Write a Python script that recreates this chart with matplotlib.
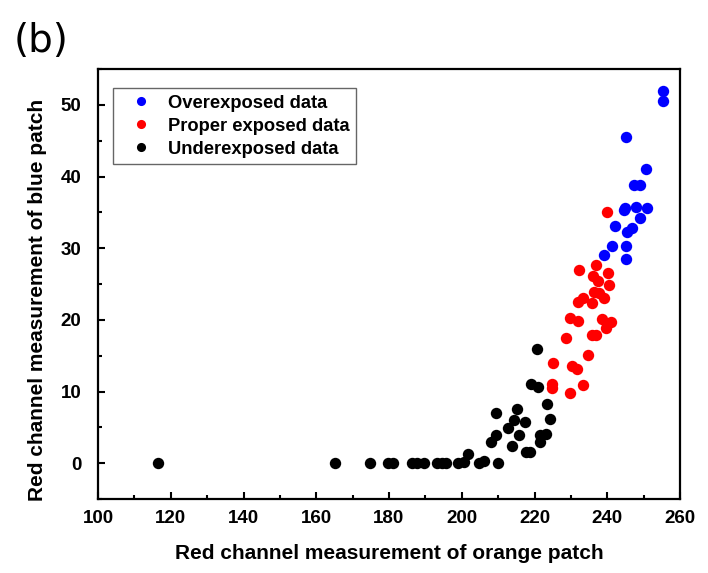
import matplotlib
matplotlib.use("Agg")
import matplotlib.pyplot as plt
from matplotlib.ticker import MultipleLocator

plt.rcParams['font.family'] = ['Liberation Sans', 'DejaVu Sans']

# Overexposed data (blue)
over_x = [255.3, 255.3, 245.1, 250.7, 247.3, 249.1, 244.5, 245.0, 247.8, 251.0,
          249.0, 242.2, 245.5, 246.8, 241.2, 245.2, 239.2, 245.2]
over_y = [52.0, 50.6, 45.5, 41.1, 38.8, 38.8, 35.3, 35.6, 35.7, 35.6,
          34.2, 33.1, 32.3, 32.8, 30.3, 30.3, 29.1, 28.5]

# Proper exposed data (red)
proper_x = [239.9, 236.9, 232.2, 240.3, 236.0, 237.4, 240.6, 236.3, 237.8, 239.0,
            233.2, 232.0, 235.7, 229.7, 232.0, 238.5, 241.0, 239.7, 235.8, 236.8,
            228.7, 234.6, 225.1, 230.3, 231.6, 233.3, 224.8, 224.8, 229.7]
proper_y = [35.0, 27.7, 26.9, 26.5, 26.1, 25.4, 24.8, 23.9, 23.8, 23.0,
            23.0, 22.5, 22.3, 20.3, 19.9, 20.1, 19.7, 18.9, 17.9, 17.9,
            17.5, 15.1, 14.0, 13.6, 13.1, 10.9, 11.0, 10.5, 9.8]

# Underexposed data (black)
under_x = [116.4, 165.1, 174.7, 179.8, 181.2, 186.2, 187.6, 189.6, 193.3, 194.7,
           195.8, 199.0, 200.5, 201.7, 204.8, 206.1, 210.0, 208.0, 209.4, 209.4,
           212.8, 214.4, 215.2, 215.8, 217.4, 213.7, 217.6, 218.8, 221.6, 223.1,
           221.6, 223.4, 224.3, 220.8, 219.0, 221.0]
under_y = [0.0, 0.0, 0.0, 0.0, 0.0, 0.0, 0.0, 0.0, 0.0, 0.0,
           0.0, 0.0, 0.2, 1.3, 0.0, 0.3, 0.0, 3.0, 4.0, 7.0,
           4.9, 6.0, 7.6, 4.0, 5.7, 2.4, 1.6, 1.6, 4.0, 4.1,
           2.9, 8.2, 6.2, 16.0, 11.0, 10.6]

labels = ["Overexposed data", "Proper exposed data", "Underexposed data"]

fig = plt.figure(figsize=(7.08, 5.73), dpi=100)
ax = fig.add_axes([98/708, 1-499/573, (680-98)/708, (499-69)/573])

ms = 8.2
ax.plot(over_x, over_y, 'o', color='#0000ff', ms=ms, mec='none', label=labels[0])
ax.plot(proper_x, proper_y, 'o', color='#ff0000', ms=ms, mec='none', label=labels[1])
ax.plot(under_x, under_y, 'o', color='#000000', ms=ms, mec='none', label=labels[2])

ax.set_xlim(100, 260)
ax.set_ylim(-5, 55)
ax.xaxis.set_major_locator(MultipleLocator(20))
ax.xaxis.set_minor_locator(MultipleLocator(10))
ax.yaxis.set_major_locator(MultipleLocator(10))
ax.yaxis.set_minor_locator(MultipleLocator(5))
ax.tick_params(which='both', direction='in', top=False, right=False, width=1.5)
ax.tick_params(which='major', length=5, labelsize=13.5)
ax.tick_params(axis='x', which='major', pad=8)
ax.tick_params(axis='y', which='major', pad=12)
ax.tick_params(which='minor', length=3)
for lab in ax.get_xticklabels() + ax.get_yticklabels():
    lab.set_fontweight('bold')
for s in ax.spines.values():
    s.set_linewidth(1.6)

ax.set_xlabel("Red channel measurement of orange patch", fontsize=15, fontweight='bold', labelpad=12)
ax.set_ylabel("Red channel measurement of blue patch", fontsize=15, fontweight='bold')
ax.yaxis.set_label_coords(-0.088, 0.462)

leg = ax.legend(loc='upper left', bbox_to_anchor=(15/582, (499-88)/430),
                prop={'weight': 'bold', 'size': 13.2}, markerscale=0.8,
                handletextpad=0.34, labelspacing=0.33, borderpad=0.36,
                borderaxespad=0.0, fancybox=False, framealpha=1,
                edgecolor='#666666', handlelength=2.3)
leg.get_frame().set_linewidth(1.0)

fig.text(14/708, 1-41/573, "(b)", fontsize=28, va='center', ha='left', family='DejaVu Sans')

fig.savefig("out.png", dpi=100)
